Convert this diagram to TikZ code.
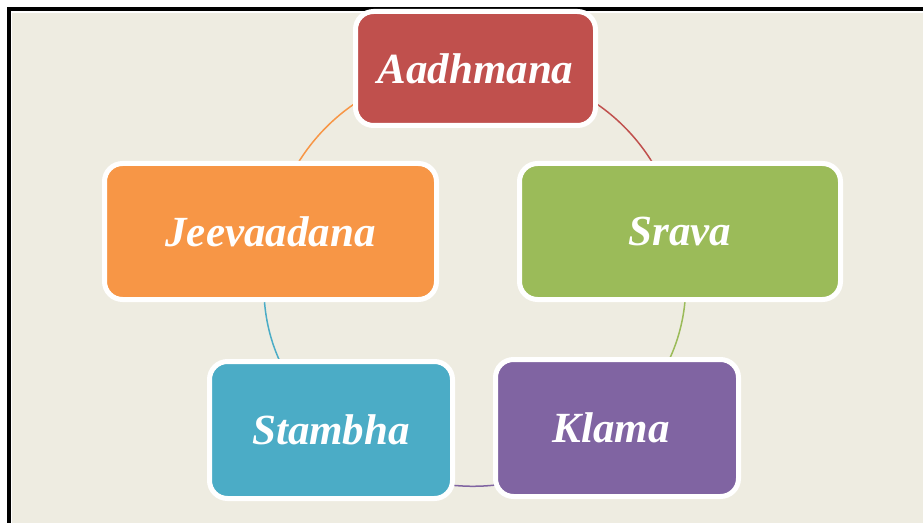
\documentclass[tikz,border=0pt]{standalone}
\usepackage{fontspec}
\setmainfont{Liberation Serif}
\usetikzlibrary{backgrounds}
\definecolor{paper}{HTML}{EEECE1}
\definecolor{aadhred}{HTML}{C0504D}
\definecolor{sravagreen}{HTML}{9BBB59}
\definecolor{klamapurple}{HTML}{8064A2}
\definecolor{stambhablue}{HTML}{4BACC6}
\definecolor{jeevaorange}{HTML}{F79646}

\begin{document}
\begin{tikzpicture}[x=1pt,y=1pt,-,thick,
    main node/.style={rectangle,rounded corners=18pt,draw=white,line width=5pt,inner sep=0pt,
        text=white,font=\fontsize{43}{50}\selectfont\bfseries\itshape},
    link/.style={line width=1.5pt}]

            \useasboundingbox (0,0) rectangle (923,523);
            \begin{scope}[on background layer]
            \fill[black] (7,0) rectangle (923,516);
            \fill[white] (11,0) rectangle (923,512);
            \fill[paper] (12,0) rectangle (923,510);
            \end{scope}

            \node[main node, fill=aadhred, minimum width=240, minimum height=114] (1) at (475.5,454.5) {Aadhmana};
            \node[main node, fill=sravagreen, minimum width=321, minimum height=136] (2) at (680,291.5) {Srava};
            \node[main node, fill=klamapurple, minimum width=243, minimum height=137] (3) at (617,95) {Klama\kern12pt};
            \node[main node, fill=stambhablue, minimum width=243, minimum height=137] (4) at (331,93) {Stambha};
            \node[main node, fill=jeevaorange, minimum width=332, minimum height=136] (5) at (270.5,291.5) {Jeevaadana};

            \begin{scope}[on background layer]
            \draw[link, aadhred] (1.center) to[bend left=39] (2.center);
            \draw[link, sravagreen] (2.center) to[bend left=30] (3.center);
            \draw[link, klamapurple] (3.center) to[bend left=43] (4.center);
            \draw[link, stambhablue] (4.center) to[bend left=30] (5.center);
            \draw[link, jeevaorange] (5.center) to[bend left=39] (1.center);
            \end{scope}

            ;
        \end{tikzpicture}
\end{document}
